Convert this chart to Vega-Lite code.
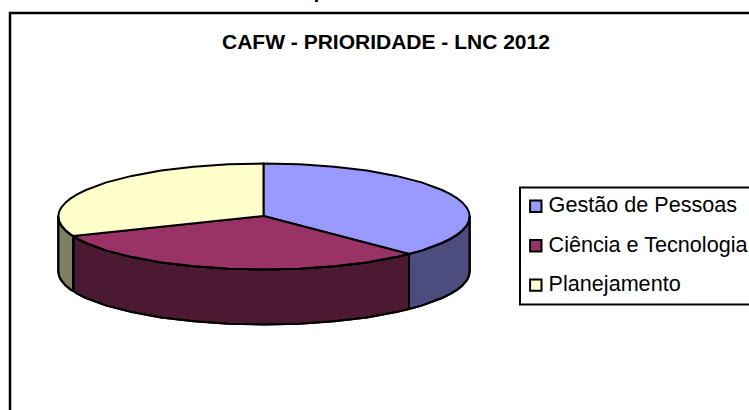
{"$schema":"https://vega.github.io/schema/vega-lite/v6.json","width":749,"height":410,"padding":0,"autosize":{"type":"none"},"background":"white","config":{"view":{"stroke":null},"legend":{"strokeWidth":2}},
"title":{"text":"CAFW - PRIORIDADE - LNC 2012","font":"Liberation Sans","fontSize":21,"fontWeight":"bold","color":"black","anchor":"start","frame":"group","offset":0,"baseline":"alphabetic","dx":222,"dy":89},
"datasets":{"pie":[
{"part":"Gestão de Pessoas","face":"side","n":1,"x":409,"y":254},{"part":"Gestão de Pessoas","face":"side","n":2,"x":421.6,"y":250.6},{"part":"Gestão de Pessoas","face":"side","n":3,"x":442.1,"y":243},{"part":"Gestão de Pessoas","face":"side","n":4,"x":450.4,"y":238.9},{"part":"Gestão de Pessoas","face":"side","n":5,"x":457.3,"y":234.6},{"part":"Gestão de Pessoas","face":"side","n":6,"x":462.7,"y":230.2},{"part":"Gestão de Pessoas","face":"side","n":7,"x":466.6,"y":225.7},{"part":"Gestão de Pessoas","face":"side","n":8,"x":468.9,"y":221.1},{"part":"Gestão de Pessoas","face":"side","n":9,"x":469.7,"y":216.5},{"part":"Gestão de Pessoas","face":"side","n":10,"x":469.7,"y":271.5},{"part":"Gestão de Pessoas","face":"side","n":11,"x":468.9,"y":276.1},{"part":"Gestão de Pessoas","face":"side","n":12,"x":466.6,"y":280.7},{"part":"Gestão de Pessoas","face":"side","n":13,"x":462.7,"y":285.2},{"part":"Gestão de Pessoas","face":"side","n":14,"x":457.3,"y":289.6},{"part":"Gestão de Pessoas","face":"side","n":15,"x":450.4,"y":293.9},{"part":"Gestão de Pessoas","face":"side","n":16,"x":442.1,"y":298},{"part":"Gestão de Pessoas","face":"side","n":17,"x":421.6,"y":305.6},{"part":"Gestão de Pessoas","face":"side","n":18,"x":409,"y":309},{"part":"Gestão de Pessoas","face":"side","n":19,"x":409,"y":254},
{"part":"Ciência e Tecnologia","face":"side","n":1,"x":409,"y":254},{"part":"Ciência e Tecnologia","face":"side","n":2,"x":396.2,"y":257.1},{"part":"Ciência e Tecnologia","face":"side","n":3,"x":366.9,"y":262.4},{"part":"Ciência e Tecnologia","face":"side","n":4,"x":334.3,"y":266.3},{"part":"Ciência e Tecnologia","face":"side","n":5,"x":299.7,"y":268.7},{"part":"Ciência e Tecnologia","face":"side","n":6,"x":264,"y":269.5},{"part":"Ciência e Tecnologia","face":"side","n":7,"x":228.3,"y":268.7},{"part":"Ciência e Tecnologia","face":"side","n":8,"x":193.7,"y":266.3},{"part":"Ciência e Tecnologia","face":"side","n":9,"x":161.1,"y":262.4},{"part":"Ciência e Tecnologia","face":"side","n":10,"x":131.8,"y":257.1},{"part":"Ciência e Tecnologia","face":"side","n":11,"x":106.4,"y":250.6},{"part":"Ciência e Tecnologia","face":"side","n":12,"x":85.9,"y":243},{"part":"Ciência e Tecnologia","face":"side","n":13,"x":77.6,"y":238.9},{"part":"Ciência e Tecnologia","face":"side","n":14,"x":73.3,"y":236},{"part":"Ciência e Tecnologia","face":"side","n":15,"x":73.3,"y":291},{"part":"Ciência e Tecnologia","face":"side","n":16,"x":77.6,"y":293.9},{"part":"Ciência e Tecnologia","face":"side","n":17,"x":85.9,"y":298},{"part":"Ciência e Tecnologia","face":"side","n":18,"x":106.4,"y":305.6},{"part":"Ciência e Tecnologia","face":"side","n":19,"x":131.8,"y":312.1},{"part":"Ciência e Tecnologia","face":"side","n":20,"x":161.1,"y":317.4},{"part":"Ciência e Tecnologia","face":"side","n":21,"x":193.7,"y":321.3},{"part":"Ciência e Tecnologia","face":"side","n":22,"x":228.3,"y":323.7},{"part":"Ciência e Tecnologia","face":"side","n":23,"x":264,"y":324.5},{"part":"Ciência e Tecnologia","face":"side","n":24,"x":299.7,"y":323.7},{"part":"Ciência e Tecnologia","face":"side","n":25,"x":334.3,"y":321.3},{"part":"Ciência e Tecnologia","face":"side","n":26,"x":366.9,"y":317.4},{"part":"Ciência e Tecnologia","face":"side","n":27,"x":396.2,"y":312.1},{"part":"Ciência e Tecnologia","face":"side","n":28,"x":409,"y":309},{"part":"Ciência e Tecnologia","face":"side","n":29,"x":409,"y":254},
{"part":"Planejamento","face":"side","n":1,"x":73.3,"y":236},{"part":"Planejamento","face":"side","n":2,"x":70.7,"y":234.6},{"part":"Planejamento","face":"side","n":3,"x":65.3,"y":230.2},{"part":"Planejamento","face":"side","n":4,"x":61.4,"y":225.7},{"part":"Planejamento","face":"side","n":5,"x":59.1,"y":221.1},{"part":"Planejamento","face":"side","n":6,"x":58.3,"y":216.5},{"part":"Planejamento","face":"side","n":7,"x":58.3,"y":271.5},{"part":"Planejamento","face":"side","n":8,"x":59.1,"y":276.1},{"part":"Planejamento","face":"side","n":9,"x":61.4,"y":280.7},{"part":"Planejamento","face":"side","n":10,"x":65.3,"y":285.2},{"part":"Planejamento","face":"side","n":11,"x":70.7,"y":289.6},{"part":"Planejamento","face":"side","n":12,"x":73.3,"y":291},{"part":"Planejamento","face":"side","n":13,"x":73.3,"y":236},
{"part":"Gestão de Pessoas","face":"top","n":1,"x":263.5,"y":216},{"part":"Gestão de Pessoas","face":"top","n":2,"x":263.5,"y":163.5},{"part":"Gestão de Pessoas","face":"top","n":3,"x":299.7,"y":164.3},{"part":"Gestão de Pessoas","face":"top","n":4,"x":334.3,"y":166.7},{"part":"Gestão de Pessoas","face":"top","n":5,"x":366.9,"y":170.6},{"part":"Gestão de Pessoas","face":"top","n":6,"x":396.2,"y":175.9},{"part":"Gestão de Pessoas","face":"top","n":7,"x":421.6,"y":182.4},{"part":"Gestão de Pessoas","face":"top","n":8,"x":442.1,"y":190},{"part":"Gestão de Pessoas","face":"top","n":9,"x":450.4,"y":194.1},{"part":"Gestão de Pessoas","face":"top","n":10,"x":457.3,"y":198.4},{"part":"Gestão de Pessoas","face":"top","n":11,"x":462.7,"y":202.8},{"part":"Gestão de Pessoas","face":"top","n":12,"x":466.6,"y":207.3},{"part":"Gestão de Pessoas","face":"top","n":13,"x":468.9,"y":211.9},{"part":"Gestão de Pessoas","face":"top","n":14,"x":469.7,"y":216.5},{"part":"Gestão de Pessoas","face":"top","n":15,"x":468.9,"y":221.1},{"part":"Gestão de Pessoas","face":"top","n":16,"x":466.6,"y":225.7},{"part":"Gestão de Pessoas","face":"top","n":17,"x":462.7,"y":230.2},{"part":"Gestão de Pessoas","face":"top","n":18,"x":457.3,"y":234.6},{"part":"Gestão de Pessoas","face":"top","n":19,"x":450.4,"y":238.9},{"part":"Gestão de Pessoas","face":"top","n":20,"x":442.1,"y":243},{"part":"Gestão de Pessoas","face":"top","n":21,"x":421.6,"y":250.6},{"part":"Gestão de Pessoas","face":"top","n":22,"x":409,"y":254},{"part":"Gestão de Pessoas","face":"top","n":23,"x":263.5,"y":216},
{"part":"Ciência e Tecnologia","face":"top","n":1,"x":263.5,"y":216},{"part":"Ciência e Tecnologia","face":"top","n":2,"x":409,"y":254},{"part":"Ciência e Tecnologia","face":"top","n":3,"x":396.2,"y":257.1},{"part":"Ciência e Tecnologia","face":"top","n":4,"x":366.9,"y":262.4},{"part":"Ciência e Tecnologia","face":"top","n":5,"x":334.3,"y":266.3},{"part":"Ciência e Tecnologia","face":"top","n":6,"x":299.7,"y":268.7},{"part":"Ciência e Tecnologia","face":"top","n":7,"x":264,"y":269.5},{"part":"Ciência e Tecnologia","face":"top","n":8,"x":228.3,"y":268.7},{"part":"Ciência e Tecnologia","face":"top","n":9,"x":193.7,"y":266.3},{"part":"Ciência e Tecnologia","face":"top","n":10,"x":161.1,"y":262.4},{"part":"Ciência e Tecnologia","face":"top","n":11,"x":131.8,"y":257.1},{"part":"Ciência e Tecnologia","face":"top","n":12,"x":106.4,"y":250.6},{"part":"Ciência e Tecnologia","face":"top","n":13,"x":85.9,"y":243},{"part":"Ciência e Tecnologia","face":"top","n":14,"x":77.6,"y":238.9},{"part":"Ciência e Tecnologia","face":"top","n":15,"x":73.3,"y":236},{"part":"Ciência e Tecnologia","face":"top","n":16,"x":263.5,"y":216},
{"part":"Planejamento","face":"top","n":1,"x":263.5,"y":216},{"part":"Planejamento","face":"top","n":2,"x":73.3,"y":236},{"part":"Planejamento","face":"top","n":3,"x":70.7,"y":234.6},{"part":"Planejamento","face":"top","n":4,"x":65.3,"y":230.2},{"part":"Planejamento","face":"top","n":5,"x":61.4,"y":225.7},{"part":"Planejamento","face":"top","n":6,"x":59.1,"y":221.1},{"part":"Planejamento","face":"top","n":7,"x":58.3,"y":216.5},{"part":"Planejamento","face":"top","n":8,"x":59.1,"y":211.9},{"part":"Planejamento","face":"top","n":9,"x":61.4,"y":207.3},{"part":"Planejamento","face":"top","n":10,"x":65.3,"y":202.8},{"part":"Planejamento","face":"top","n":11,"x":70.7,"y":198.4},{"part":"Planejamento","face":"top","n":12,"x":77.6,"y":194.1},{"part":"Planejamento","face":"top","n":13,"x":85.9,"y":190},{"part":"Planejamento","face":"top","n":14,"x":106.4,"y":182.4},{"part":"Planejamento","face":"top","n":15,"x":131.8,"y":175.9},{"part":"Planejamento","face":"top","n":16,"x":161.1,"y":170.6},{"part":"Planejamento","face":"top","n":17,"x":193.7,"y":166.7},{"part":"Planejamento","face":"top","n":18,"x":228.3,"y":164.3},{"part":"Planejamento","face":"top","n":19,"x":263.5,"y":163.5},{"part":"Planejamento","face":"top","n":20,"x":263.5,"y":216}
],"frame":[{"n":1,"x":10,"y":414},{"n":2,"x":10,"y":13},{"n":3,"x":754,"y":13}],"stray":[{"label":"p","x":313.6,"y":-2}]},
"layer":[
{"data":{"name":"frame"},"mark":{"type":"line","stroke":"black","strokeWidth":2.5,"strokeJoin":"miter"},"encoding":{"x":{"field":"x","type":"quantitative","scale":{"domain":[0,749],"nice":false,"zero":false},"axis":null},"y":{"field":"y","type":"quantitative","scale":{"domain":[410,0],"nice":false,"zero":false},"axis":null},"order":{"field":"n"}}},
{"data":{"name":"stray"},"mark":{"type":"text","align":"left","baseline":"alphabetic","font":"Liberation Sans","fontWeight":"bold","fontSize":21,"color":"black"},"encoding":{"x":{"field":"x","type":"quantitative"},"y":{"field":"y","type":"quantitative"},"text":{"field":"label"}}},
{"data":{"name":"pie"},"mark":{"type":"line","stroke":"black","strokeWidth":2,"strokeJoin":"round"},"encoding":{"x":{"field":"x","type":"quantitative"},"y":{"field":"y","type":"quantitative"},"order":{"field":"n"},"detail":{"field":"face"},"fill":{"field":"part","type":"nominal","sort":null,"scale":{"domain":["Gestão de Pessoas","Ciência e Tecnologia","Planejamento"],"range":["#9999FF","#993366","#FFFFCC"]},"legend":{"title":null,"orient":"none","legendX":520,"legendY":187.5,"fillColor":"white","strokeColor":"black","padding":8,"symbolType":"square","symbolSize":130,"symbolStrokeColor":"black","symbolStrokeWidth":2,"symbolOpacity":1,"labelFont":"Liberation Sans","labelFontSize":21.6,"labelColor":"black","labelLimit":300,"rowPadding":16.4,"labelOffset":2,"symbolOffset":-3}}}},
{"data":{"name":"pie"},"transform":[{"filter":"datum.face === 'side'"}],"mark":{"type":"line","stroke":"black","strokeWidth":2,"strokeJoin":"round","fill":"black","fillOpacity":0.5},"encoding":{"x":{"field":"x","type":"quantitative"},"y":{"field":"y","type":"quantitative"},"order":{"field":"n"},"detail":{"field":"part"}}}
]}
